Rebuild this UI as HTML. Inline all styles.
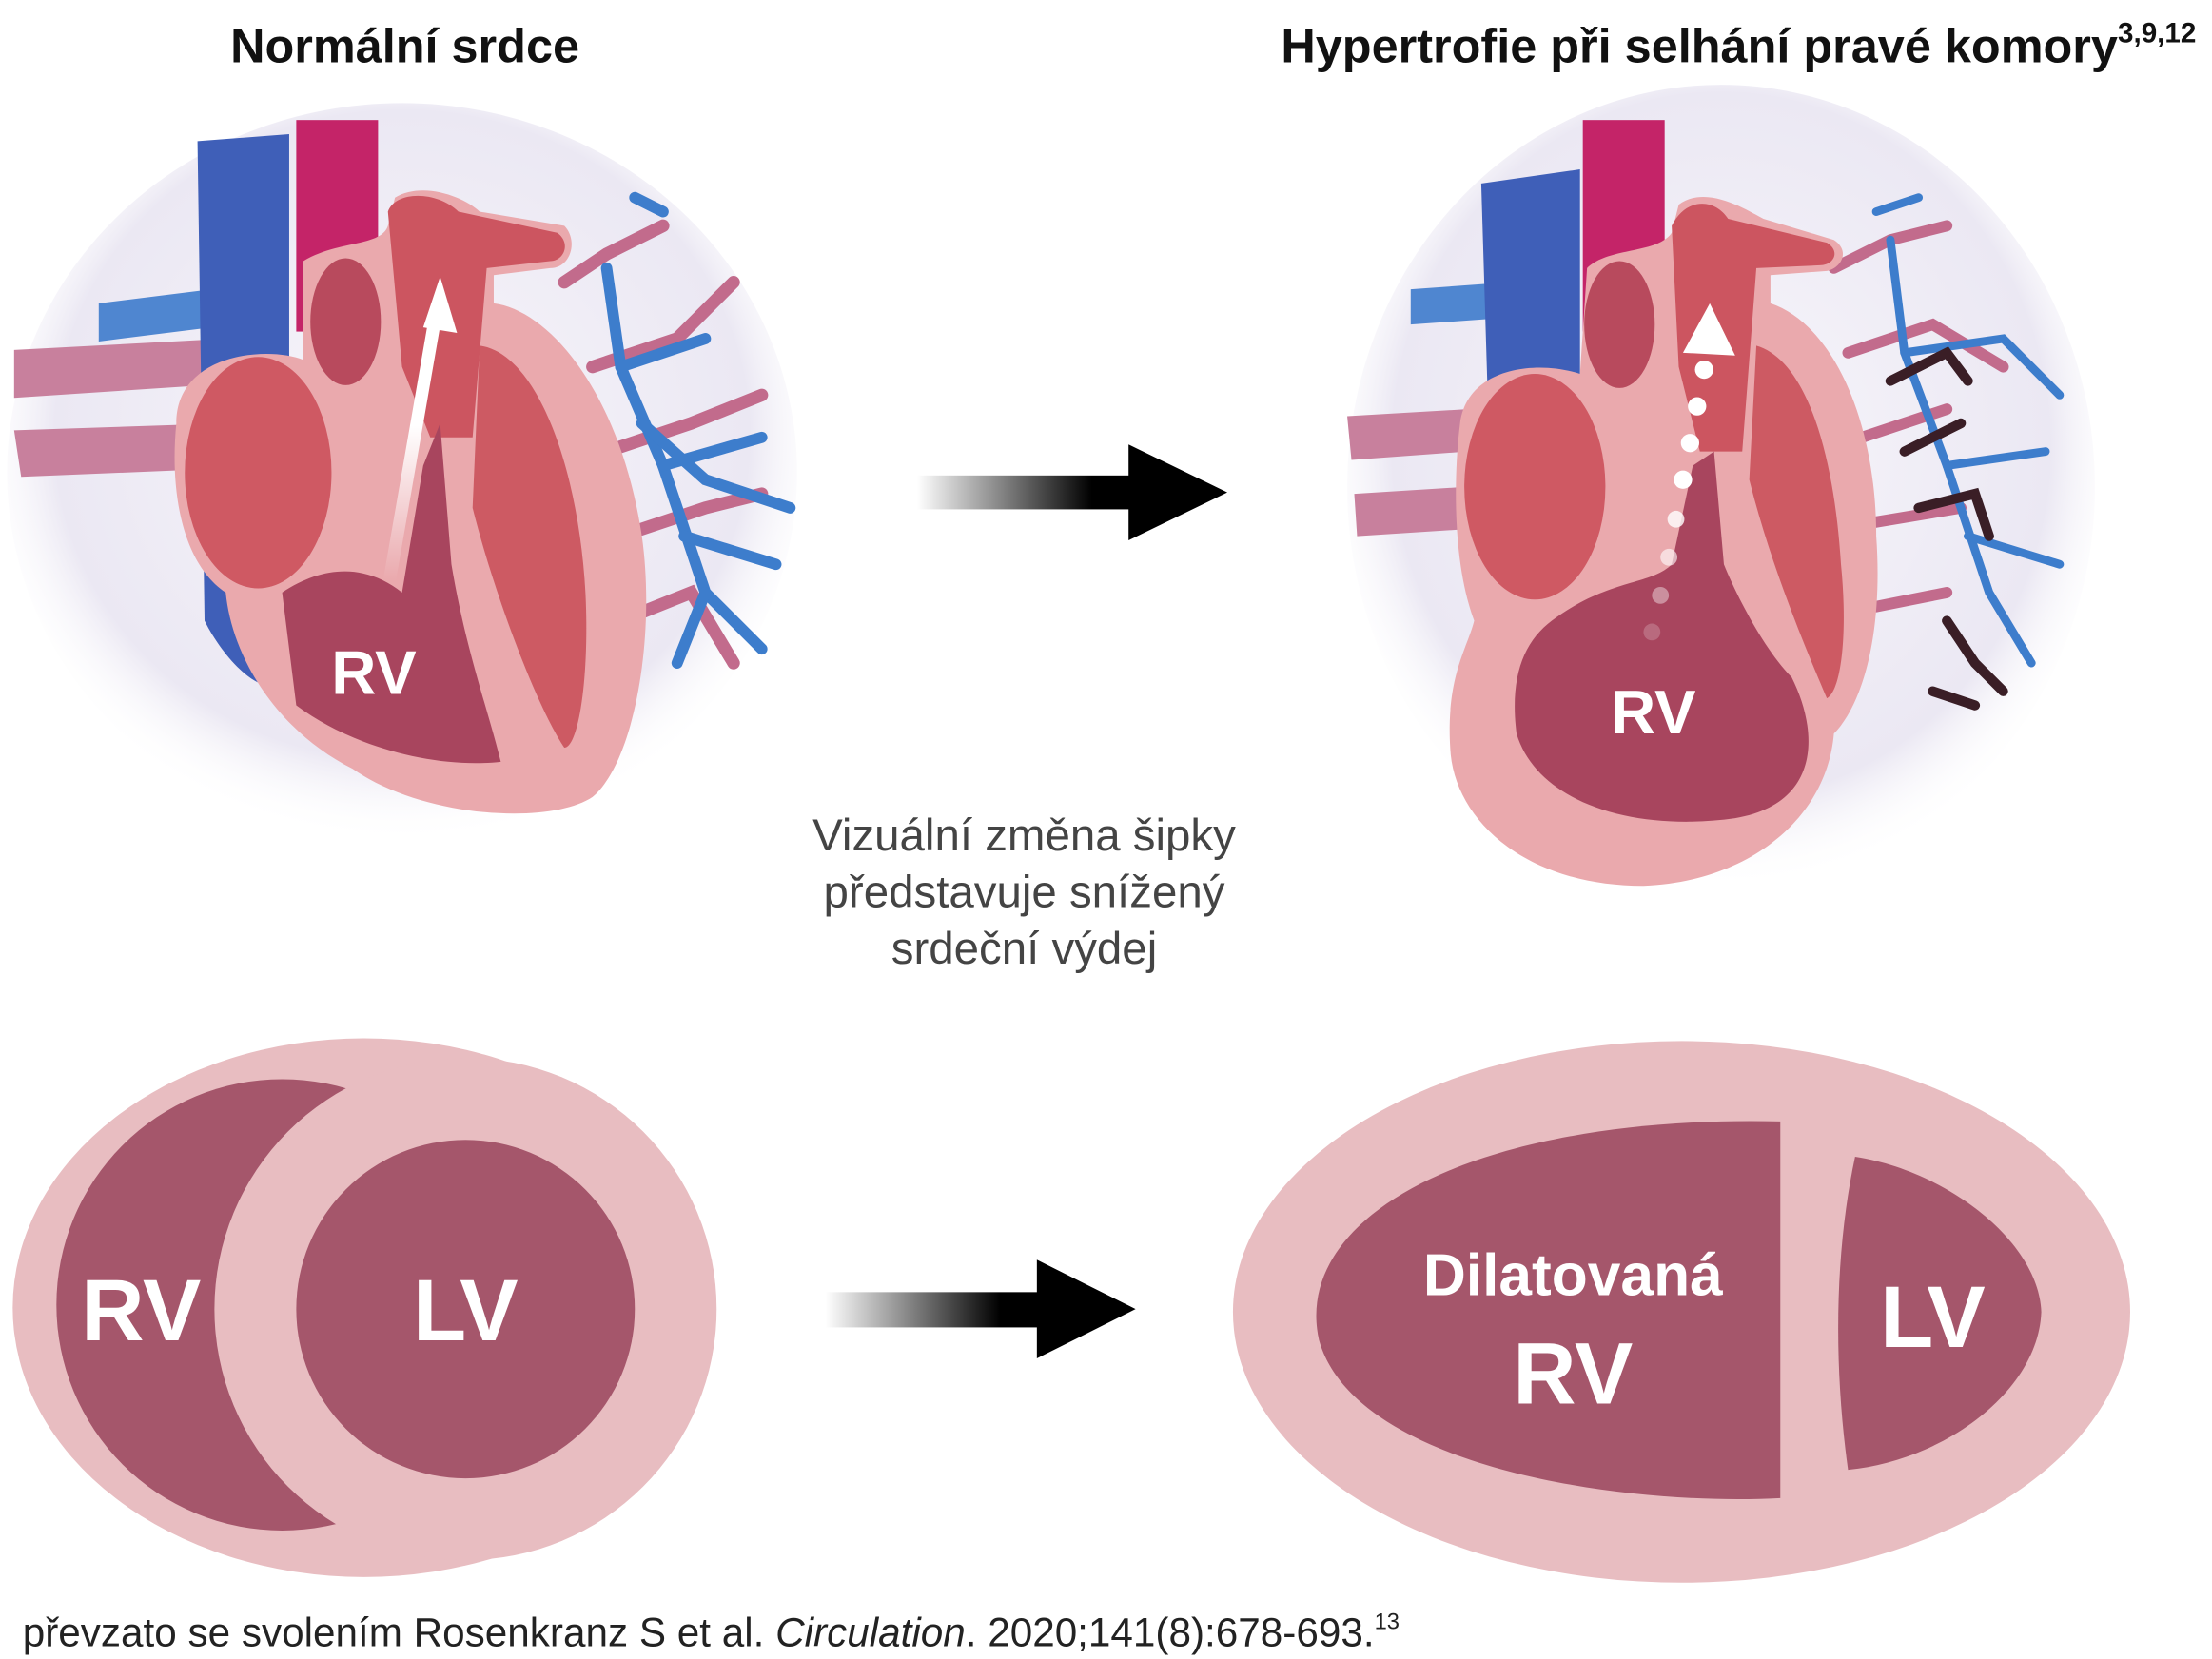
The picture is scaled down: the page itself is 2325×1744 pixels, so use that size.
<!DOCTYPE html>
<html><head><meta charset="utf-8"><style>
html,body{margin:0;padding:0;background:#fff}
svg{display:block}
</style></head><body>
<svg width="2325" height="1744" viewBox="0 0 1568 1176" xmlns="http://www.w3.org/2000/svg" font-family="Liberation Sans, sans-serif">
<defs>
<radialGradient id="lung" cx="0.5" cy="0.45" r="0.55">
<stop offset="0" stop-color="#f8f6fb"/><stop offset="0.8" stop-color="#ebe8f3"/><stop offset="1" stop-color="#ffffff" stop-opacity="0"/>
</radialGradient>
<linearGradient id="bar" x1="0" x2="1"><stop offset="0" stop-color="#000" stop-opacity="0"/><stop offset="0.8" stop-color="#000"/></linearGradient>
<linearGradient id="arr" x1="0" y1="1" x2="0" y2="0"><stop offset="0" stop-color="#fff" stop-opacity="0"/><stop offset="0.6" stop-color="#fff"/></linearGradient>
</defs>
<rect width="1568" height="1176" fill="#fff"/>
<text x="287" y="44" font-size="34" font-weight="bold" text-anchor="middle" fill="#111">Normální srdce</text>
<text x="908" y="44" font-size="34" font-weight="bold" fill="#111">Hypertrofie při selhání pravé komory<tspan font-size="20" dy="-14">3,9,12</tspan></text>

<!-- LEFT HEART -->
<g>
<ellipse cx="285" cy="335" rx="280" ry="262" fill="url(#lung)"/>
<path d="M10,248 L160,240 L160,272 L10,282Z" fill="#c8809d"/>
<path d="M10,305 L160,300 L160,332 L15,338Z" fill="#c8809d"/>
<path d="M70,215 L150,205 L150,232 L70,242Z" fill="#4f86d0"/>
<path d="M140,100 L205,95 L205,480 C190,500 160,470 145,440 Z" fill="#3f5fb8"/>
<rect x="210" y="85" width="58" height="150" fill="#c42468"/>
<g stroke="#c26b8c" stroke-width="9" fill="none" stroke-linecap="round">
<path d="M400,200 L430,180 L470,160"/><path d="M420,260 L480,240 L520,200"/><path d="M430,320 L490,300 L540,280"/><path d="M440,380 L500,360 L540,350"/><path d="M440,440 L490,420 L520,470"/>
</g>
<g stroke="#3d7dcc" stroke-width="8" fill="none" stroke-linecap="round">
<path d="M430,190 L440,260 L470,330 L500,420 L540,460"/><path d="M470,150 L450,140"/><path d="M440,260 L500,240"/><path d="M470,330 L540,310"/><path d="M485,380 L550,400"/><path d="M500,420 L480,470"/><path d="M455,300 L500,340 L560,360"/>
</g>
<path d="M125,300 C125,250 190,245 215,255 L215,185 C240,170 270,175 275,160 L280,140 C300,128 330,140 340,150 L400,160 C410,170 405,190 390,190 L350,195 L350,215 C390,220 440,280 455,380 C465,450 450,540 420,565 C390,585 300,580 250,545 C200,520 165,470 160,420 C130,400 120,350 125,300Z" fill="#eaa9ad"/>
<ellipse cx="183" cy="335" rx="52" ry="82" fill="#cf5963"/>
<ellipse cx="245" cy="228" rx="25" ry="45" fill="#b84a5d"/>
<path d="M275,150 C280,135 310,135 325,150 L395,165 C405,172 400,185 390,185 L345,190 L335,310 L305,310 L285,260Z" fill="#cc5560"/>
<path d="M200,420 C230,400 260,400 285,420 L300,330 L312,300 L320,400 C330,460 345,500 355,540 C310,545 250,530 210,500Z" fill="#a8455e"/>
<path d="M340,245 C380,250 410,330 415,420 C418,480 410,530 400,530 C380,500 350,420 335,360Z" fill="#cd5a63"/>
<path d="M276,412 L308,228" stroke="url(#arr)" stroke-width="9"/>
<path d="M300,232 L312,196 L324,236Z" fill="#fff"/>
<text x="265" y="492" font-size="44" font-weight="bold" fill="#fff" text-anchor="middle">RV</text>
</g>

<!-- RIGHT HEART -->
<g>
<ellipse cx="1220" cy="345" rx="265" ry="285" fill="url(#lung)"/>
<path d="M955,295 L1040,290 L1040,320 L958,326Z" fill="#c8809d"/>
<path d="M960,350 L1040,345 L1040,375 L962,380Z" fill="#c8809d"/>
<path d="M1000,205 L1070,200 L1070,225 L1000,230Z" fill="#4f86d0"/>
<path d="M1050,130 L1120,120 L1120,500 C1100,520 1070,490 1060,460Z" fill="#3f5fb8"/>
<rect x="1122" y="85" width="58" height="150" fill="#c42468"/>
<g stroke="#c26b8c" stroke-width="8" fill="none" stroke-linecap="round">
<path d="M1300,190 L1340,170 L1380,160"/><path d="M1310,250 L1370,230 L1420,260"/><path d="M1320,310 L1380,290"/><path d="M1330,370 L1390,360"/><path d="M1330,430 L1380,420"/>
</g>
<g stroke="#3d7dcc" stroke-width="6" fill="none" stroke-linecap="round">
<path d="M1340,170 L1350,250 L1380,330 L1410,420 L1440,470"/><path d="M1350,250 L1420,240 L1460,280"/><path d="M1380,330 L1450,320"/><path d="M1395,380 L1460,400"/><path d="M1330,150 L1360,140"/>
</g>
<g stroke="#3a1e26" stroke-width="7" fill="none" stroke-linecap="round">
<path d="M1340,270 L1380,250 L1395,270"/><path d="M1350,320 L1390,300"/><path d="M1360,360 L1400,350 L1410,380"/><path d="M1380,440 L1400,470 L1420,490"/><path d="M1370,490 L1400,500"/>
</g>
<path d="M1035,300 C1040,260 1090,255 1120,265 L1125,190 C1140,175 1175,180 1185,165 L1190,145 C1210,130 1240,150 1250,155 L1300,170 C1312,178 1305,190 1295,192 L1255,195 L1255,215 C1300,230 1330,300 1330,380 C1335,450 1320,500 1300,520 C1295,580 1240,625 1165,628 C1080,628 1030,580 1028,530 C1025,480 1040,460 1045,440 C1030,400 1030,340 1035,300Z" fill="#eaa9ad"/>
<ellipse cx="1088" cy="345" rx="50" ry="80" fill="#cf5963"/>
<ellipse cx="1148" cy="230" rx="25" ry="45" fill="#b84a5d"/>
<path d="M1185,160 C1195,140 1215,140 1225,155 L1295,172 C1305,178 1300,188 1290,188 L1245,190 L1235,320 L1205,320 L1190,260Z" fill="#cc5560"/>
<path d="M1100,440 C1140,410 1170,415 1185,400 L1200,330 L1215,320 L1222,400 C1230,420 1250,460 1270,480 C1290,520 1290,570 1230,580 C1160,590 1090,570 1075,520 C1070,480 1080,455 1100,440Z" fill="#a8455e"/>
<path d="M1245,245 C1280,255 1300,320 1305,400 C1310,450 1305,490 1295,495 C1280,460 1255,400 1240,340Z" fill="#cd5a63"/>
<path d="M1193,250 L1212,215 L1230,252Z" fill="#fff"/>
<g fill="#fff">
<circle cx="1208" cy="262" r="6.5"/><circle cx="1203" cy="288" r="6.5"/><circle cx="1198" cy="314" r="6.5"/><circle cx="1193" cy="340" r="6.5"/>
<circle cx="1188" cy="368" r="6" opacity="0.8"/><circle cx="1183" cy="395" r="6" opacity="0.6"/><circle cx="1177" cy="422" r="6" opacity="0.4"/><circle cx="1171" cy="448" r="6" opacity="0.2"/>
</g>
<text x="1172" y="520" font-size="44" font-weight="bold" fill="#fff" text-anchor="middle">RV</text>
</g>

<!-- middle arrows -->
<rect x="650" y="337" width="155" height="24" fill="url(#bar)"/>
<path d="M800,315 L870,349 L800,383Z" fill="#000"/>
<rect x="585" y="916" width="155" height="25" fill="url(#bar)"/>
<path d="M735,893 L805,928 L735,963Z" fill="#000"/>

<g font-size="32" fill="#444" text-anchor="middle">
<text x="726" y="603">Vizuální změna šipky</text>
<text x="726" y="643">představuje snížený</text>
<text x="726" y="683">srdeční výdej</text>
</g>

<!-- bottom left -->
<ellipse cx="258" cy="927" rx="249" ry="191" fill="#e8bdc1"/>
<circle cx="200" cy="925" r="160" fill="#a5566b"/>
<circle cx="330" cy="928" r="178" fill="#e8bdc1"/>
<circle cx="330" cy="928" r="120" fill="#a5566b"/>
<text x="100" y="950" font-size="62" font-weight="bold" fill="#fff" text-anchor="middle">RV</text>
<text x="330" y="950" font-size="62" font-weight="bold" fill="#fff" text-anchor="middle">LV</text>

<!-- bottom right -->
<ellipse cx="1192" cy="930" rx="318" ry="192" fill="#e8bdc1"/>
<path d="M1262,795 L1262,1062 C1150,1068 960,1040 935,950 C915,860 1050,790 1262,795Z" fill="#a5566b"/>
<path d="M1315,820 C1380,830 1445,880 1447,930 C1445,985 1380,1035 1310,1042 C1300,970 1300,890 1315,820Z" fill="#a5566b"/>
<text x="1115" y="918" font-size="42" font-weight="bold" fill="#fff" text-anchor="middle">Dilatovaná</text>
<text x="1115" y="995" font-size="62" font-weight="bold" fill="#fff" text-anchor="middle">RV</text>
<text x="1370" y="955" font-size="62" font-weight="bold" fill="#fff" text-anchor="middle">LV</text>

<text x="16" y="1167" font-size="28.5" fill="#222">převzato se svolením Rosenkranz S et al. <tspan font-style="italic">Circulation</tspan>. 2020;141(8):678-693.<tspan font-size="16" dy="-12">13</tspan></text>
</svg>
</body></html>
